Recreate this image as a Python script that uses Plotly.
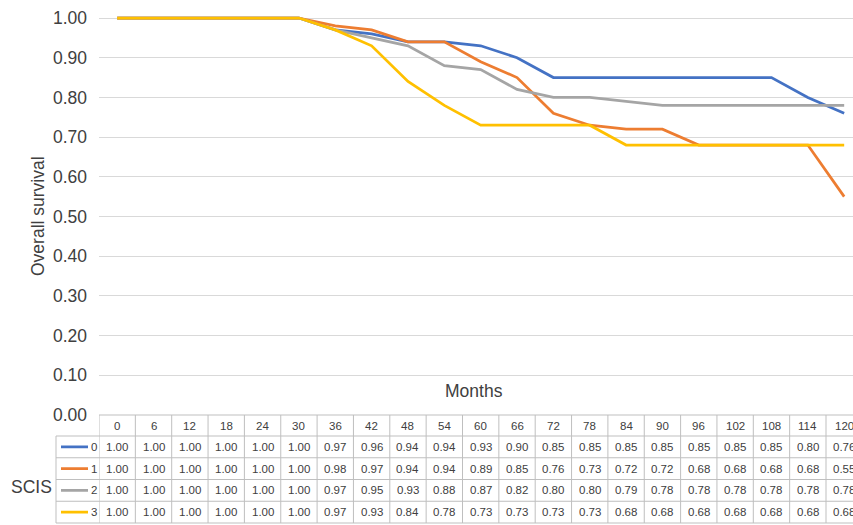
import plotly.graph_objects as go

# ---- data ----
months = [0, 6, 12, 18, 24, 30, 36, 42, 48, 54, 60, 66, 72, 78, 84, 90, 96, 102, 108, 114, 120]
scis_0 = [1.00, 1.00, 1.00, 1.00, 1.00, 1.00, 0.97, 0.96, 0.94, 0.94, 0.93, 0.90, 0.85, 0.85, 0.85, 0.85, 0.85, 0.85, 0.85, 0.80, 0.76]
scis_1 = [1.00, 1.00, 1.00, 1.00, 1.00, 1.00, 0.98, 0.97, 0.94, 0.94, 0.89, 0.85, 0.76, 0.73, 0.72, 0.72, 0.68, 0.68, 0.68, 0.68, 0.55]
scis_2 = [1.00, 1.00, 1.00, 1.00, 1.00, 1.00, 0.97, 0.95, 0.93, 0.88, 0.87, 0.82, 0.80, 0.80, 0.79, 0.78, 0.78, 0.78, 0.78, 0.78, 0.78]
scis_3 = [1.00, 1.00, 1.00, 1.00, 1.00, 1.00, 0.97, 0.93, 0.84, 0.78, 0.73, 0.73, 0.73, 0.73, 0.68, 0.68, 0.68, 0.68, 0.68, 0.68, 0.68]
series_names = ["0", "1", "2", "3"]
series_values = [scis_0, scis_1, scis_2, scis_3]
colors = ["#4472C4", "#ED7D31", "#A5A5A5", "#FFC000"]

W, H = 853, 525
L, R, T, B = 99, 0, 14, 110
plot_w = W - L - R
plot_h = H - T - B
y_bottom_px = H - B  # 415

TEXT = "#404040"
FONT = "Liberation Sans, Arial, sans-serif"
GRID = "#d9d9d9"
TABLE_LINE = "#bfbfbf"


def py2p(py):
    return (y_bottom_px - py) / plot_h


def px2p(px):
    return (px - L) / plot_w


idx = list(range(len(months)))

fig = go.Figure()
for name, vals, col in zip(series_names, series_values, colors):
    fig.add_trace(go.Scatter(x=idx, y=vals, mode="lines", name=name,
                             line=dict(color=col, width=2.75), showlegend=False))

shapes = []
annotations = []

# table geometry (pixels)
header_top = 415
header_bot = 436
row_h = 21.75
row_tops = [header_bot + i * row_h for i in range(len(series_names) + 1)]
label_left = 56

# horizontal lines
shapes.append(dict(type="line", xref="x", yref="paper", x0=-0.5, x1=len(months) - 0.5,
                   y0=py2p(header_top), y1=py2p(header_top),
                   line=dict(color=TABLE_LINE, width=1)))
for yt in row_tops:
    shapes.append(dict(type="line", xref="paper", yref="paper", x0=px2p(label_left), x1=1.02,
                       y0=py2p(yt), y1=py2p(yt), line=dict(color=TABLE_LINE, width=1)))
# vertical lines
shapes.append(dict(type="line", xref="paper", yref="paper", x0=px2p(label_left), x1=px2p(label_left),
                   y0=py2p(header_bot), y1=py2p(row_tops[-1]), line=dict(color=TABLE_LINE, width=1)))
for k in range(len(months) + 1):
    shapes.append(dict(type="line", xref="x", yref="paper", x0=k - 0.5, x1=k - 0.5,
                       y0=py2p(header_top), y1=py2p(row_tops[-1]),
                       line=dict(color=TABLE_LINE, width=1)))

# header text
for k, m in enumerate(months):
    annotations.append(dict(x=k, y=py2p((header_top + header_bot) / 2), xref="x", yref="paper",
                            text=str(m), showarrow=False, xanchor="center", yanchor="middle",
                            font=dict(size=11.5, color=TEXT, family=FONT)))
# rows
for i, (name, vals, col) in enumerate(zip(series_names, series_values, colors)):
    yc = (row_tops[i] + row_tops[i + 1]) / 2
    for k, v in enumerate(vals):
        annotations.append(dict(x=k, y=py2p(yc), xref="x", yref="paper",
                                text=f"{v:.2f}", showarrow=False, xanchor="center", yanchor="middle",
                                font=dict(size=11.5, color=TEXT, family=FONT)))
    shapes.append(dict(type="line", xref="paper", yref="paper", x0=px2p(61), x1=px2p(88),
                       y0=py2p(yc), y1=py2p(yc), line=dict(color=col, width=2.75)))
    annotations.append(dict(x=px2p(98.5), y=py2p(yc), xref="paper", yref="paper",
                            text=name, showarrow=False, xanchor="right", yanchor="middle",
                            font=dict(size=11.5, color=TEXT, family=FONT)))

annotations.append(dict(x=px2p(31), y=py2p(487), xref="paper", yref="paper", text="SCIS",
                        showarrow=False, xanchor="center", yanchor="middle",
                        font=dict(size=17.5, color=TEXT, family=FONT)))
annotations.append(dict(x=px2p(474), y=py2p(391), xref="paper", yref="paper", text="Months",
                        showarrow=False, xanchor="center", yanchor="middle",
                        font=dict(size=17.5, color=TEXT, family=FONT)))
annotations.append(dict(x=px2p(38), y=py2p(216), xref="paper", yref="paper", text="Overall survival",
                        showarrow=False, xanchor="center", yanchor="middle", textangle=-90,
                        font=dict(size=17.5, color=TEXT, family=FONT)))

step_px = 36.35
x_max = -0.5 + plot_w / step_px

fig.update_layout(
    width=W, height=H,
    margin=dict(l=L, r=R, t=T, b=B, pad=0),
    paper_bgcolor="white", plot_bgcolor="white",
    shapes=shapes, annotations=annotations,
    showlegend=False,
    font=dict(family=FONT, color=TEXT),
)
fig.update_xaxes(range=[-0.5, x_max], showticklabels=False, showgrid=False, zeroline=False,
                 showline=False, ticks="")
fig.update_yaxes(range=[0, 1.0 * plot_h / 397], tickvals=[i / 10 for i in range(11)],
                 ticktext=[f"{i / 10:.2f}" for i in range(11)],
                 showgrid=True, gridcolor=GRID, gridwidth=1, zeroline=False, showline=False,
                 ticks="", ticklabelstandoff=11,
                 tickfont=dict(size=17.5, color=TEXT, family=FONT))

fig.write_html("out.html",
               config={"displayModeBar": False, "staticPlot": True},
               post_script="document.body.style.margin='0';document.body.style.overflow='hidden';")
